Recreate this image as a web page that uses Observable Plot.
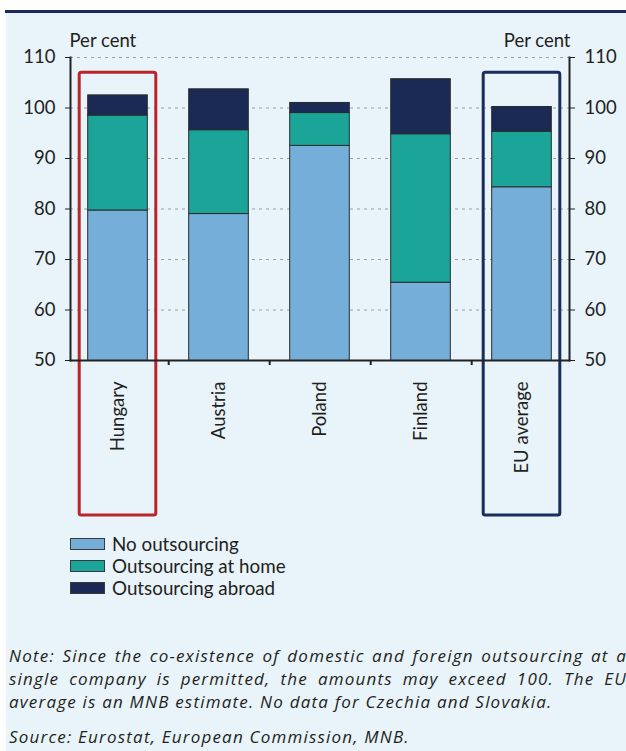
<!DOCTYPE html>
<html>
<head>
<meta charset="utf-8">
<script src="https://cdn.jsdelivr.net/npm/d3@7"></script>
<script src="https://cdn.jsdelivr.net/npm/@observablehq/plot@0.6"></script>
<style>
  html, body { margin: 0; padding: 0; width: 626px; height: 751px; overflow: hidden; background: #ffffff; }
  #bg { position: absolute; left: 6px; top: 13px; right: 0; bottom: 0; background: #e8f3fa; }
  #topline { position: absolute; left: 5px; top: 10px; right: 0; height: 3px; background: #1b2a5a; }
  #chart { position: absolute; left: 0; top: 0; }
  #legend { position: absolute; left: 70px; top: 532px; font-family: Lato, sans-serif; font-size: 18.8px; color: #231f20; }
  .row { display: flex; align-items: center; height: 22px; }
  .sw { width: 33px; height: 10px; border: 1px solid #3a3a3a; margin-right: 7px; margin-top: 2px; }
  #note { position: absolute; left: 9px; top: 644px; width: 618px; font-family: "Open Sans", sans-serif; font-style: italic; font-size: 17px; letter-spacing: 1.2px; color: #231f20; }
  .ln { height: 23px; line-height: 23px; white-space: nowrap; }
  .j { text-align: justify; text-align-last: justify; white-space: normal; }
</style>
</head>
<body>
<div id="bg"></div>
<div id="topline"></div>
<div id="chart"></div>
<div id="legend"></div>
<div id="note">
  <div class="ln j">Note: Since the co-existence of domestic and foreign outsourcing at a</div>
  <div class="ln j">single company is permitted, the amounts may exceed 100. The EU</div>
  <div class="ln">average is an MNB estimate. No data for Czechia and Slovakia.</div>
  <div class="ln" style="margin-top:12px">Source: Eurostat, European Commission, MNB.</div>
</div>
<script>
const countries = ["Hungary", "Austria", "Poland", "Finland", "EU average"];
const seriesNames = ["No outsourcing", "Outsourcing at home", "Outsourcing abroad"];
const noOutsourcing = [79.7, 79.0, 92.5, 65.4, 84.3];
const outsourcingHome = [18.8, 16.6, 6.5, 29.4, 11.0];
const outsourcingAbroad = [4.0, 8.1, 2.0, 10.9, 4.9];
const yTicks = [50, 60, 70, 80, 90, 100, 110];
const gridTicks = [60, 70, 80, 90, 100, 110];
const highlightRed = ["Hungary"];
const highlightBlue = ["EU average"];
const colors = ["#74aed9", "#1ba599", "#1a2a55"];

const seriesValues = [noOutsourcing, outsourcingHome, outsourcingAbroad];
const data = [];
countries.forEach((c, i) => {
  seriesNames.forEach((s, j) => data.push({country: c, series: s, value: seriesValues[j][i]}));
});

const ink = "#231f20";
const chart = Plot.plot({
  width: 626,
  height: 520,
  marginTop: 57,
  marginBottom: 160,
  marginLeft: 70,
  marginRight: 57,
  style: {fontFamily: "Lato, sans-serif", fontSize: "18.5px", color: ink, background: "transparent", overflow: "visible"},
  x: {domain: countries, range: [66, 573], padding: 0, axis: "bottom", tickSize: 0, tickRotate: -90, tickPadding: 21, label: null},
  y: {domain: [50, 110], ticks: yTicks, axis: "both", tickSize: 5, tickPadding: 10, label: null},
  color: {domain: seriesNames, range: colors},
  marks: [
    Plot.ruleY(gridTicks, {stroke: "#9a9fa6", strokeWidth: 1.2, strokeDasharray: "3,4"}),
    Plot.barY(data, {x: "country", y: "value", fill: "series", stroke: "#2b2b2b", strokeWidth: 1, insetLeft: 20.7, insetRight: 20.7, clip: true}),
    Plot.barY(highlightRed, {x: d => d, y1: 19.3, y2: 107, fill: "none", stroke: "#b8262b", strokeWidth: 3, rx: 2, insetLeft: 12.2, insetRight: 12.2}),
    Plot.barY(highlightBlue, {x: d => d, y1: 19.3, y2: 107, fill: "none", stroke: "#1b2d5c", strokeWidth: 3, rx: 2, insetLeft: 12.2, insetRight: 12.2}),
    Plot.ruleX(countries.slice(0, 4), {x: d => d, y1: 50, y2: 49.0, dx: 50.7, stroke: "#222", strokeWidth: 2}),
    Plot.frame({anchor: "left", stroke: "#222", strokeWidth: 2}),
    Plot.frame({anchor: "right", stroke: "#222", strokeWidth: 2}),
    Plot.frame({anchor: "bottom", stroke: "#222", strokeWidth: 2}),
    Plot.text(["Per cent"], {frameAnchor: "top-left", textAnchor: "start", dx: -1, dy: -24, fill: ink}),
    Plot.text(["Per cent"], {frameAnchor: "top-right", textAnchor: "end", dx: 1, dy: -24, fill: ink})
  ]
});
document.getElementById("chart").appendChild(chart);

const legend = document.getElementById("legend");
seriesNames.forEach((s, i) => {
  const row = document.createElement("div");
  row.className = "row";
  const sw = document.createElement("div");
  sw.className = "sw";
  sw.style.background = colors[i];
  const t = document.createElement("span");
  t.textContent = s;
  row.appendChild(sw);
  row.appendChild(t);
  legend.appendChild(row);
});
</script>
</body>
</html>
